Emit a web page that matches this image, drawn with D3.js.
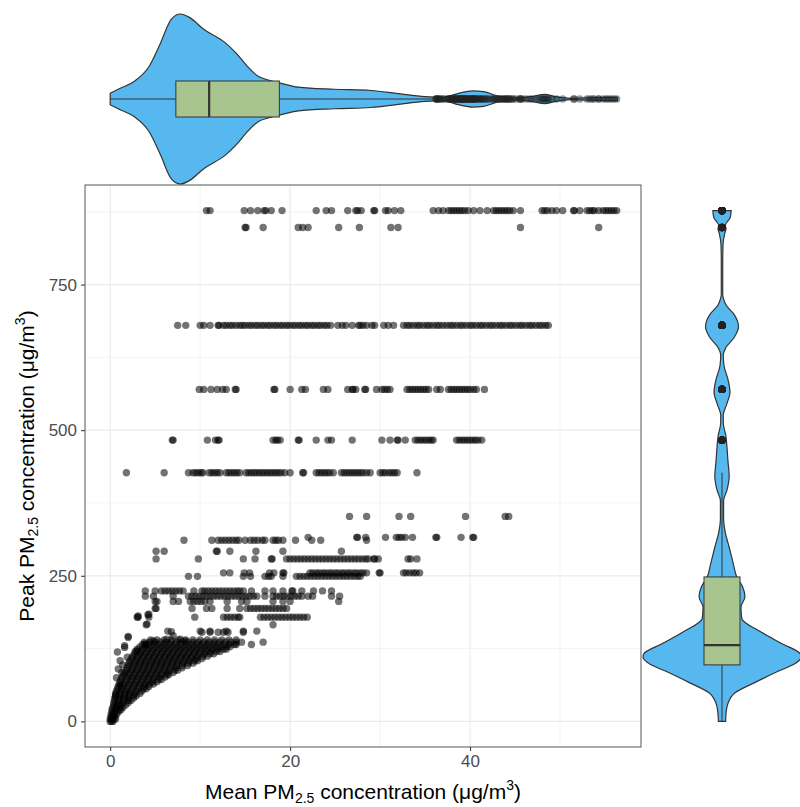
<!DOCTYPE html>
<html><head><meta charset="utf-8">
<script src="https://cdn.jsdelivr.net/npm/d3@7"></script>
<style>
body{margin:0;background:#fff}
svg{display:block}
text{font-family:"Liberation Sans", Arial, sans-serif}
</style>
</head><body>
<svg id="c" width="800" height="807"></svg>
<script>
// ---------- data ----------
const xTicks = [0, 20, 40];
const xMinorTicks = [10, 30, 50];
const yTicks = [0, 250, 500, 750];
const yMinorTicks = [125, 375, 625, 875];

// horizontal stripes of points: peak level (y) and the mean values (x) on it
const stripeLevels = [877, 848, 680, 570, 483, 427, 352, 316, 311, 292, 279, 255, 249, 224, 215, 206, 194, 179];
const stripeMeans = [
 [10.7,11.1,14.9,15.6,16.4,17.1,17.3,17.9,19.1,22.9,24.0,24.6,26.4,27.3,27.5,27.9,29.3,29.4,30.6,30.9,31.6,32.3,35.9,36.5,37.0,37.6,37.9,38.2,38.5,38.8,39.1,39.4,39.8,40.4,41.1,41.9,42.6,42.9,43.2,43.5,43.8,44.1,44.4,44.8,45.6,48.0,48.3,48.6,49.1,49.6,50.3,51.5,51.6,52.2,53.0,53.3,53.6,53.8,54.3,54.8,55.1,55.4,55.7,56.0,56.3],
 [15.0,15.1,17.0,20.9,21.4,22.0,25.4,27.7,31.2,32.0,45.6,54.3],
 [7.5,8.4,10.0,10.4,11.1,12.0,12.1,12.6,12.9,13.3,13.6,14.0,14.4,14.7,15.0,15.4,15.7,16.1,16.4,16.8,17.1,17.5,17.8,18.2,18.5,18.9,19.2,19.6,19.9,20.3,20.6,21.0,21.3,21.7,22.0,22.4,22.7,23.1,23.4,23.8,24.1,24.5,25.3,25.8,26.2,26.9,27.6,27.8,28.1,28.5,29.1,29.4,30.4,30.9,31.5,32.6,33.0,33.3,33.7,34.1,34.4,34.8,35.2,35.5,35.9,36.3,36.6,37.0,37.4,37.8,38.1,38.5,38.9,39.2,39.6,40.0,40.3,40.7,41.1,41.4,41.8,42.2,42.5,42.9,43.3,43.6,44.0,44.4,44.7,45.1,45.5,45.8,46.2,46.6,46.9,47.3,47.7,48.0,48.4,48.7],
 [9.9,10.4,11.2,11.9,12.5,12.9,13.9,14.0,18.2,18.3,20.0,21.3,21.7,23.7,24.2,26.4,26.9,27.0,27.3,28.3,28.4,29.6,30.2,30.5,30.8,31.1,33.0,33.3,33.6,33.9,34.2,34.5,34.8,35.1,35.4,36.3,36.7,37.6,37.9,38.2,38.5,38.8,39.1,39.4,39.7,40.0,40.4,40.7,41.6],
 [6.9,7.0,10.8,11.7,12.0,12.1,18.1,18.4,18.6,18.9,20.9,21.0,22.9,24.2,24.6,26.9,30.2,31.1,31.9,32.0,32.8,33.9,34.2,34.5,34.8,35.1,35.4,35.7,35.9,38.5,38.8,39.1,39.4,39.7,40.0,40.3,40.6,40.9,41.3],
 [1.8,6.0,8.7,9.2,9.5,9.8,10.1,10.3,11.0,11.3,11.6,11.9,12.2,12.9,13.2,13.5,13.8,14.1,14.4,15.1,15.4,15.7,16.0,16.3,16.6,16.9,17.2,17.5,17.8,18.1,18.4,18.7,19.0,19.4,20.0,21.4,21.5,22.9,23.2,23.5,23.8,24.1,24.4,24.8,25.7,26.0,26.3,26.6,26.9,27.2,27.5,27.8,28.1,28.5,28.9,30.0,30.3,30.6,31.0,31.3,31.6,31.9,34.1],
 [26.6,28.5,32.1,33.4,39.5,43.9,44.3],
 [22.0,27.4,27.5,28.4,30.6,31.8,32.1,32.4,32.8,33.6,36.2,36.3,39.0,40.3,40.4],
 [8.2,11.3,12.0,12.4,12.8,13.2,13.6,14.0,14.3,15.0,15.6,16.0,16.4,16.9,17.2,18.1,18.4,18.7,19.2,20.6,22.4,23.4,28.5],
 [5.1,6.0,11.8,11.9,13.3,16.2,19.2,25.7],
 [5.1,9.8,14.8,16.1,17.9,18.0,19.6,20.0,20.4,20.8,21.2,21.6,22.0,22.4,22.8,23.2,23.6,24.0,24.4,24.8,25.2,25.6,26.0,26.4,26.8,27.2,27.6,28.0,28.4,28.7,29.3,29.4,29.8,33.1,33.4,34.1],
 [12.6,13.3,14.9,15.5,17.7,18.2,19.2,19.3,22.2,22.5,22.9,23.2,23.6,23.9,24.3,24.6,25.0,25.3,25.7,26.0,26.4,26.7,27.1,27.4,27.8,28.1,28.5,29.9,30.0,32.6,32.9,33.3,33.7,34.0,34.4],
 [8.7,9.7,14.8,15.6,17.2,17.6,17.9,19.2,20.7,21.1,21.5,21.9,22.3,22.7,23.1,23.5,23.9,24.3,24.7,25.1,25.5,25.9,26.3,26.7,27.1,27.5,27.8],
 [3.9,5.0,5.7,6.1,6.5,6.9,7.3,7.7,8.1,9.3,10.2,10.5,10.9,11.3,11.7,12.1,12.5,12.9,13.3,13.7,14.1,14.4,14.8,15.7,17.2,18.1,19.2,20.2,20.3,21.3,22.6,23.6,24.6],
 [3.9,4.8,7.0,8.7,9.1,9.5,9.9,10.3,10.7,11.1,11.5,11.9,12.3,12.7,13.1,13.5,13.9,14.3,14.7,15.1,15.5,15.9,16.3,17.2,18.1,18.5,18.9,19.3,19.7,20.1,20.5,20.9,21.3,22.0,22.5,24.6,25.5],
 [5.0,5.2,7.0,7.6,8.9,9.3,9.7,10.1,10.5,11.1,13.0,14.6,15.2,18.1,19.2,20.0,25.4],
 [5.0,5.1,9.1,10.7,11.3,13.0,14.4,15.2,15.6,16.0,16.4,16.8,17.2,17.6,18.0,18.4,18.8,19.2,19.6],
 [3.0,3.1,4.3,9.4,12.6,13.0,13.4,13.8,14.2,14.4,16.7,17.1,17.5,17.9,18.3,18.7,19.1,19.5,19.9,20.3,20.7,21.1,21.5,21.9]
];

// dense low cloud: peak level and the means read along it
const coreLevels = [0,4,8,12,16,20,24,28,32,36,40,44,48,52,56,60,64,68,72,76,80,84,88,92,96,100,104,108,112,116,120,124,128,132,136,140];
const coreMeans = [
 [0.0,0.15,0.3],
 [0.0,0.2,0.4,0.6],
 [0.1,0.3,0.5],
 [0.1,0.4,0.7],
 [0.2,0.5,0.9],
 [0.2,0.6,1.0,1.2],
 [0.3,0.7,1.1,1.4],
 [0.4,0.8,1.2,1.7],
 [0.4,0.9,1.4,2.0],
 [0.5,1.0,1.5,2.0,2.3],
 [0.5,1.0,1.5,2.0,2.6],
 [0.6,1.1,1.6,2.1,2.6,2.9],
 [0.6,1.1,1.6,2.1,2.7,3.3],
 [0.7,1.2,1.8,2.3,2.9,3.5],
 [0.8,1.3,1.9,2.5,3.1,3.7,4.0],
 [0.9,1.4,2.0,2.6,3.2,3.8,4.3],
 [1.0,1.5,2.1,2.7,3.3,3.9,4.4,4.8],
 [1.1,1.7,2.3,2.9,3.5,4.1,4.7,5.2],
 [1.2,1.8,2.4,3.0,3.6,4.2,4.8,5.4,5.7],
 [1.3,1.9,2.5,3.1,3.7,4.3,4.9,5.5,6.1],
 [1.5,2.1,2.7,3.3,3.9,4.5,5.1,5.7,6.3,6.5],
 [1.6,2.2,2.8,3.4,4.0,4.6,5.2,5.8,6.4,7.0],
 [1.8,2.4,3.0,3.6,4.2,4.8,5.4,6.0,6.6,7.2,7.5],
 [1.9,2.5,3.1,3.7,4.3,4.9,5.5,6.1,6.7,7.3,8.0],
 [2.0,2.6,3.2,3.8,4.4,5.0,5.6,6.2,6.8,7.4,8.0,8.6],
 [2.1,2.7,3.3,3.9,4.5,5.1,5.7,6.3,6.9,7.5,8.1,8.7,9.2],
 [2.2,2.8,3.4,4.0,4.6,5.2,5.8,6.4,7.0,7.6,8.2,8.8,9.4,9.7],
 [2.4,3.0,3.6,4.2,4.8,5.4,6.0,6.6,7.2,7.8,8.4,9.0,9.6,10.2],
 [2.5,3.1,3.7,4.3,4.9,5.5,6.1,6.7,7.3,7.9,8.5,9.1,9.7,10.3,10.8],
 [2.7,3.3,3.9,4.5,5.1,5.7,6.3,6.9,7.5,8.1,8.7,9.3,9.9,10.5,11.1,11.5],
 [2.8,3.4,4.0,4.6,5.2,5.8,6.4,7.0,7.6,8.2,8.8,9.4,10.0,10.6,11.2,11.8,12.2],
 [3.0,3.6,4.2,4.8,5.4,6.0,6.6,7.2,7.8,8.4,9.0,9.6,10.2,10.8,11.4,12.0,12.6,12.9],
 [3.3,3.9,4.5,5.1,5.7,6.3,6.9,7.5,8.1,8.7,9.3,9.9,10.5,11.1,11.7,12.3,12.9,13.3],
 [3.6,4.2,4.8,5.4,6.0,6.6,7.2,7.8,8.4,9.0,9.6,10.2,10.8,11.4,12.0,12.6,13.2,13.8,14.0],
 [3.8,4.4,5.0,5.6,6.2,6.8,7.4,8.0,8.6,9.2,9.8,10.4,11.0,11.6,12.2,12.8,13.4,14.0,14.6],
 [4.5,5.2,6.0,6.8,7.6,8.4,9.2,10.0,10.8,11.6,12.4,13.2,14.0]
];

// scattered single points
const looseMean = [2.0,1.6,3.0,1.1,1.9,0.9,1.3,0.7,1.1,0.6,3.9,3.9,4.8,6.3,7.0,7.8,8.3,10.2,11.1,12.0,12.6,13.1,14.8,15.7,6.4,6.8,4.1,4.0,4.3,4.2,16.3,17.0,14.8,18.1,3.1,2.0,1.6,10.0,11.1,12.9,0.8,1.4];
const loosePeak = [144,127,121,104,110,90,84,75,61,44,132,133,138,141,147,141,138,153,153,153,153,153,153,132,155,154,167,166,184,183,155,136,155,166,181,146,130,155,155,155,119,97];

// marginal violin profiles (relative density)
const topViolinX = [0,1.0,2.7,4.3,5.6,6.8,7.8,8.8,10.4,12.8,14.0,15.2,16.4,17.7,18.8,20.9,24.9,29.0,31.8,35.0,37.0,38.7,40.3,41.5,43.1,45.1,46.8,48.3,49.5,51.2,53.2,55.0,56.4];
const topViolinD = [0.067,0.12,0.21,0.38,0.66,0.94,1.0,0.96,0.82,0.66,0.54,0.39,0.27,0.22,0.19,0.14,0.115,0.10,0.067,0.028,0.02,0.067,0.095,0.087,0.035,0.012,0.028,0.055,0.028,0.008,0.015,0.018,0.02];
const rightViolinY = [877,865,852,846,837,819,788,733,727,715,700,678,660,642,629,611,587,565,544,526,513,489,471,446,422,397,379,348,324,299,269,248,232,214,196,177,153,134,116,110,98,86,67,49,31,12,0];
const rightViolinD = [0.116,0.104,0.042,0.05,0.033,0.013,0.009,0.009,0.016,0.05,0.146,0.209,0.158,0.05,0.016,0.025,0.076,0.101,0.058,0.016,0.016,0.05,0.063,0.076,0.091,0.063,0.02,0.02,0.042,0.091,0.146,0.187,0.258,0.29,0.24,0.25,0.5,0.75,0.99,1.0,0.91,0.71,0.42,0.165,0.076,0.05,0.046];

// boxplot statistics [lower whisker, q1, median, q3, upper whisker]
const topBox = [0, 7.3, 11.0, 18.8, 36.0];
const rightBox = [0, 97, 131, 248, 427];

// ---------- build ----------
const points = [];
stripeLevels.forEach((lv, i) => stripeMeans[i].forEach(m => points.push([m, lv])));
coreLevels.forEach((lv, i) => coreMeans[i].forEach(m => points.push([m, lv])));
looseMean.forEach((m, i) => points.push([m, loosePeak[i]]));

const svg = d3.select("#c");
const P = {l: 85, r: 641, t: 185, b: 747};
const x = d3.scaleLinear().domain([-2.8, 59.0]).range([P.l, P.r]);
const y = d3.scaleLinear().domain([-44, 921]).range([P.b, P.t]);

const gridC = "#ebebeb";
const g = svg.append("g");
g.selectAll(".xm").data(xMinorTicks).join("line")
  .attr("x1", d => x(d)).attr("x2", d => x(d)).attr("y1", P.t).attr("y2", P.b)
  .attr("stroke", gridC).attr("stroke-width", 0.6);
g.selectAll(".ym").data(yMinorTicks).join("line")
  .attr("y1", d => y(d)).attr("y2", d => y(d)).attr("x1", P.l).attr("x2", P.r)
  .attr("stroke", gridC).attr("stroke-width", 0.6);
g.selectAll(".xM").data(xTicks).join("line")
  .attr("x1", d => x(d)).attr("x2", d => x(d)).attr("y1", P.t).attr("y2", P.b)
  .attr("stroke", gridC).attr("stroke-width", 1.2);
g.selectAll(".yM").data(yTicks).join("line")
  .attr("y1", d => y(d)).attr("y2", d => y(d)).attr("x1", P.l).attr("x2", P.r)
  .attr("stroke", gridC).attr("stroke-width", 1.2);

// points
svg.append("g").selectAll("circle").data(points).join("circle")
  .attr("cx", d => x(d[0])).attr("cy", d => y(d[1])).attr("r", 3.7)
  .attr("fill", "#000").attr("fill-opacity", 0.55);

// panel border
svg.append("rect").attr("x", P.l).attr("y", P.t).attr("width", P.r - P.l).attr("height", P.b - P.t)
  .attr("fill", "none").attr("stroke", "#555").attr("stroke-width", 1);

// axes
const ax = svg.append("g").attr("transform", `translate(0,${P.b})`)
  .call(d3.axisBottom(x).tickValues(xTicks).tickSize(4).tickPadding(4));
const ay = svg.append("g").attr("transform", `translate(${P.l},0)`)
  .call(d3.axisLeft(y).tickValues(yTicks).tickSize(4).tickPadding(4));
[ax, ay].forEach(a => {
  a.select(".domain").remove();
  a.selectAll(".tick line").attr("stroke", "#333").attr("stroke-width", 1);
  a.selectAll(".tick text").attr("fill", "#4d4d4d").style("font-size", "17px")
   .style("font-family", '"Liberation Sans", Arial, sans-serif');
});

// titles
function title(sel, lead) {
  sel.append("tspan").text(lead + " PM");
  sel.append("tspan").text("2.5").style("font-size", "14px").attr("dy", 4);
  sel.append("tspan").text(" concentration (\u03BCg/m").attr("dy", -4);
  sel.append("tspan").text("3").style("font-size", "14px").attr("dy", -9);
  sel.append("tspan").text(")").attr("dy", 9);
}
const xt = svg.append("text").attr("x", (P.l + P.r) / 2).attr("y", 799)
  .attr("text-anchor", "middle").style("font-size", "21px").attr("fill", "#000");
title(xt, "Mean");
const yt = svg.append("text").attr("transform", `translate(34,${(P.t + P.b) / 2}) rotate(-90)`)
  .attr("text-anchor", "middle").style("font-size", "21px").attr("fill", "#000");
title(yt, "Peak");

// ---------- marginals ----------
const violinFill = "#56B8EE", boxFill = "#A8C48F", lineC = "#333";
const topCY = 99, rightCX = 722, boxHalf = 18;
const topW = d3.scaleLinear().domain([0, 1]).range([0, 85]);
const rightW = d3.scaleLinear().domain([0, 1]).range([0, 79]);

const topData = topViolinX.map((v, i) => [v, topViolinD[i]]);
svg.append("path").datum(topData)
  .attr("d", d3.area().x(d => x(d[0])).y0(d => topCY - topW(d[1])).y1(d => topCY + topW(d[1])).curve(d3.curveMonotoneX))
  .attr("fill", violinFill).attr("stroke", lineC).attr("stroke-width", 1.2);
svg.append("line").attr("x1", x(topBox[0])).attr("x2", x(topBox[1])).attr("y1", topCY).attr("y2", topCY).attr("stroke", lineC).attr("stroke-width", 1);
svg.append("line").attr("x1", x(topBox[3])).attr("x2", x(topBox[4])).attr("y1", topCY).attr("y2", topCY).attr("stroke", lineC).attr("stroke-width", 1);
svg.append("rect").attr("x", x(topBox[1])).attr("y", topCY - boxHalf).attr("width", x(topBox[3]) - x(topBox[1])).attr("height", 2 * boxHalf)
  .attr("fill", boxFill).attr("stroke", lineC).attr("stroke-width", 1);
svg.append("line").attr("x1", x(topBox[2])).attr("x2", x(topBox[2])).attr("y1", topCY - boxHalf).attr("y2", topCY + boxHalf).attr("stroke", lineC).attr("stroke-width", 2.2);
const topOut = points.filter(p => p[0] > topBox[4]);
svg.append("g").selectAll("circle").data(topOut).join("circle")
  .attr("cx", d => x(d[0])).attr("cy", topCY).attr("r", 3.7).attr("fill", "#222").attr("fill-opacity", 0.45);

const rightData = rightViolinY.map((v, i) => [v, rightViolinD[i]]);
svg.append("path").datum(rightData)
  .attr("d", d3.area().y(d => y(d[0])).x0(d => rightCX - rightW(d[1])).x1(d => rightCX + rightW(d[1])).curve(d3.curveMonotoneY))
  .attr("fill", violinFill).attr("stroke", lineC).attr("stroke-width", 1.2);
svg.append("line").attr("y1", y(rightBox[0])).attr("y2", y(rightBox[1])).attr("x1", rightCX).attr("x2", rightCX).attr("stroke", lineC).attr("stroke-width", 1);
svg.append("line").attr("y1", y(rightBox[3])).attr("y2", y(rightBox[4])).attr("x1", rightCX).attr("x2", rightCX).attr("stroke", lineC).attr("stroke-width", 1);
svg.append("rect").attr("x", rightCX - boxHalf).attr("y", y(rightBox[3])).attr("width", 2 * boxHalf).attr("height", y(rightBox[1]) - y(rightBox[3]))
  .attr("fill", boxFill).attr("stroke", lineC).attr("stroke-width", 1);
svg.append("line").attr("y1", y(rightBox[2])).attr("y2", y(rightBox[2])).attr("x1", rightCX - boxHalf).attr("x2", rightCX + boxHalf).attr("stroke", lineC).attr("stroke-width", 2.2);
const rightOut = points.filter(p => p[1] > rightBox[4]);
svg.append("g").selectAll("circle").data(rightOut).join("circle")
  .attr("cx", rightCX).attr("cy", d => y(d[1])).attr("r", 3.7).attr("fill", "#222").attr("fill-opacity", 0.45);
</script>
</body></html>
